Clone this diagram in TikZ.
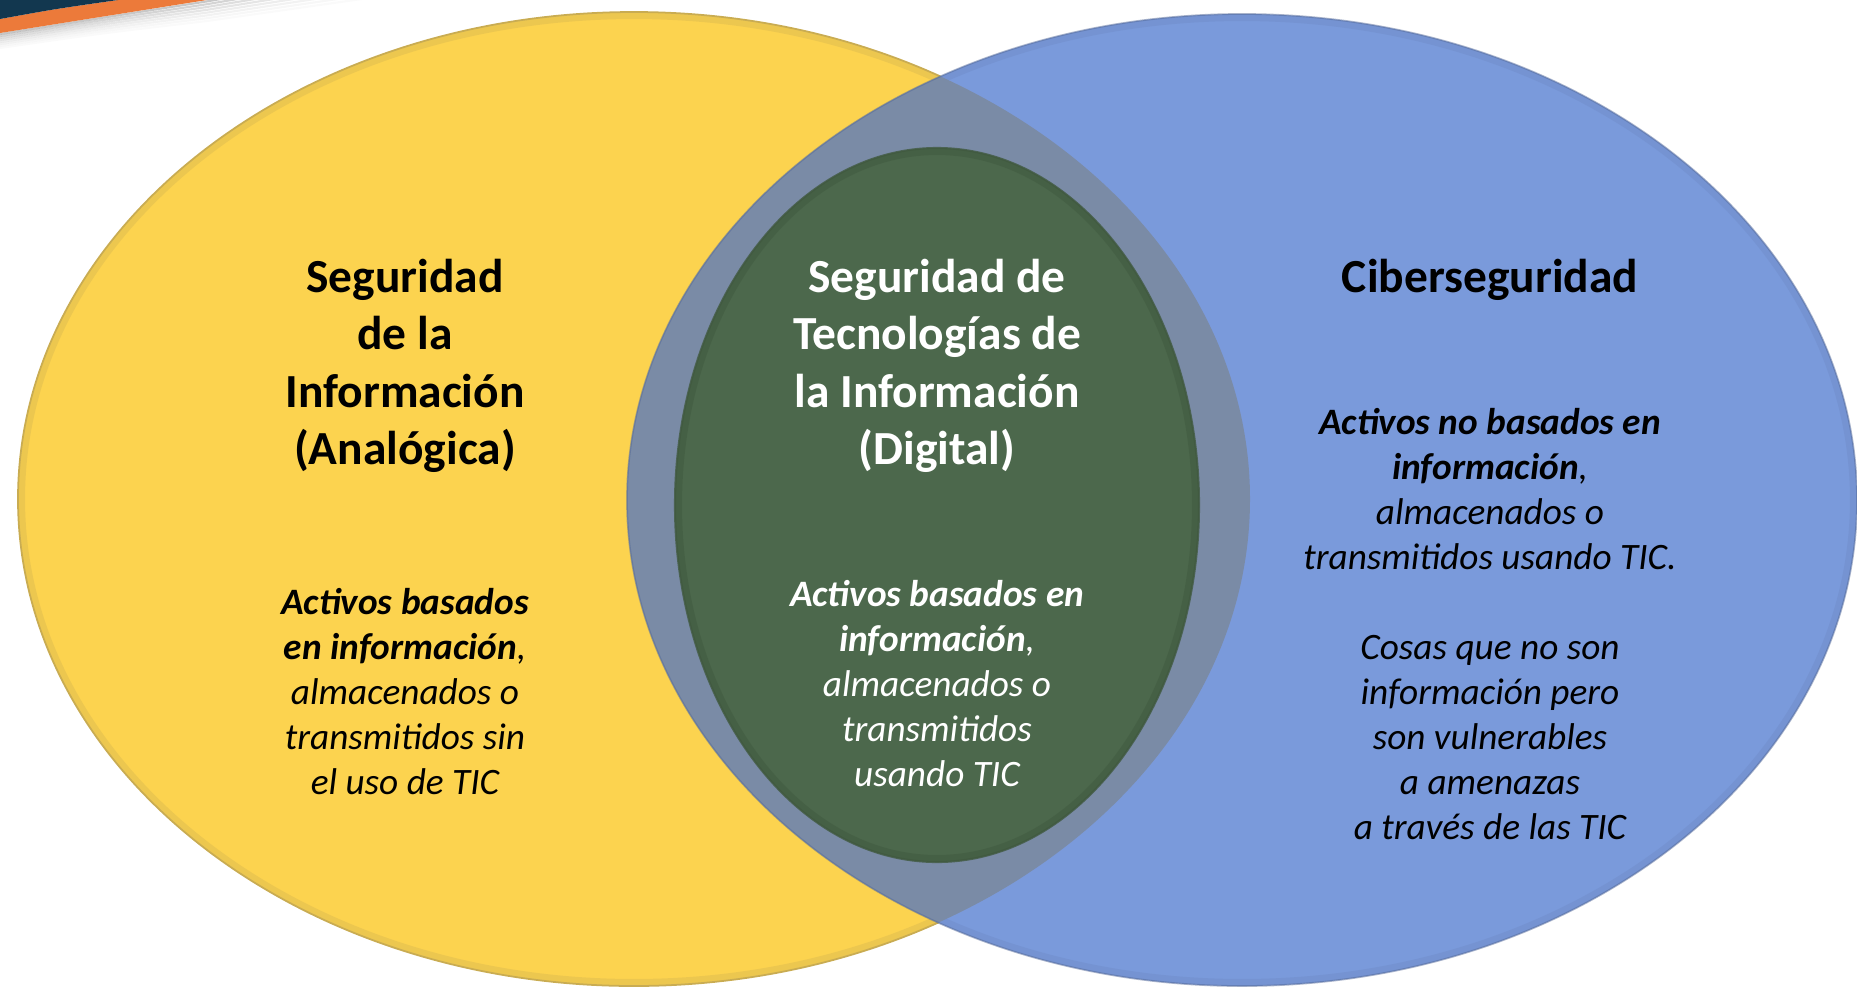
\documentclass[tikz,border=0pt]{standalone}
\usepackage{fontspec}
\setmainfont{Carlito}
\usetikzlibrary{shapes.geometric}

\definecolor{setyellow}{HTML}{FCD34F}
\definecolor{setyellowrim}{HTML}{C9AC52}
\definecolor{setblue}{HTML}{7A9ADB}
\definecolor{setbluerim}{HTML}{6A84BE}
\definecolor{setlens}{HTML}{7A8BA6}
\definecolor{setgreen}{HTML}{4C684C}
\definecolor{setgreenrim}{HTML}{40593F}
\definecolor{bandnavy}{HTML}{12374F}
\definecolor{bandorange}{HTML}{EC7A3A}

\tikzset{
  title/.style={align=center, inner sep=0pt, font=\fontsize{13.5}{16.3}\selectfont\bfseries},
  body/.style={align=center, inner sep=0pt, font=\fontsize{10.6}{12.8}\selectfont\itshape},
  rim/.style={opacity=0.3, line width=4pt},
}

\begin{document}
\begin{tikzpicture}[x=0.01cm, y=-0.01cm]
	\useasboundingbox (0,0) rectangle (1857,987);

	% corner band
	\foreach \d/\o in {1/0.22,3/0.17,5/0.13,7/0.10,9/0.07,11/0.05,13/0.03,15/0.02}
		\draw[black, opacity=\o, line width=0.6pt] (0,33+\d) .. controls (100,17+1.1*\d) .. (207,1.4*\d) -- (460,-45+2*\d);
	\fill[bandorange] (0,19) .. controls (55,9) .. (118,0) -- (207,0) .. controls (100,17) .. (0,33) -- cycle;
	\fill[bandnavy] (0,0) -- (118,0) .. controls (55,9) .. (0,19) -- cycle;

	% yellow set
	\fill[setyellow] (634,499) ellipse (616 and 487);
	\begin{scope}
		\clip (634,499) ellipse (616 and 487);
		\draw[setyellowrim, rim] (634,499) ellipse (616 and 487);
	\end{scope}
	\draw[setyellowrim, line width=0.5pt] (634,499) ellipse (616 and 487);

	% blue set
	\fill[setblue] (1242,500) ellipse (615 and 486);
	\begin{scope}
		\clip (1242,500) ellipse (615 and 486);
		\draw[setbluerim, rim] (1242,500) ellipse (615 and 486);
		\clip (634,499) ellipse (616 and 487);
		\fill[setlens] (1242,500) ellipse (615 and 486);
	\end{scope}
	\draw[setbluerim!80!black, line width=0.5pt, opacity=0.5] (1242,500) ellipse (615 and 486);

	% green set
	\fill[setgreen] (937,505) ellipse (262 and 357);
	\begin{scope}
		\clip (937,505) ellipse (262 and 357);
		\draw[setgreenrim, rim, opacity=0.5] (937,505) ellipse (262 and 357);
	\end{scope}
	\draw[setgreenrim, line width=0.6pt, opacity=0.8] (937,505) ellipse (262 and 357);

	% texts
	\node[title] (infotitle) at (405,366) {Seguridad\\de la\\Información\\(Analógica)};
	\node[body] (infobody) at (405,692) {\textbf{Activos basados}\\\textbf{en información},\\almacenados o\\transmitidos sin\\el uso de TIC};

	\node[title, white] (ittitle) at (937,366) {Seguridad de\\Tecnologías de\\la Información\\(Digital)};
	\node[body, white] (itbody) at (937,684) {\textbf{Activos basados en}\\\textbf{información},\\almacenados o\\transmitidos\\usando TIC};

	\node[title] (cybertitle) at (1490,280) {Ciberseguridad};
	\node[body] (cyberbody) at (1490,624) {\textbf{Activos no basados en}\\\textbf{información},\\almacenados o\\transmitidos usando TIC.\\[12.8pt]Cosas que no son\\información pero\\son vulnerables\\a amenazas\\a través de las TIC};
\end{tikzpicture}
\end{document}
